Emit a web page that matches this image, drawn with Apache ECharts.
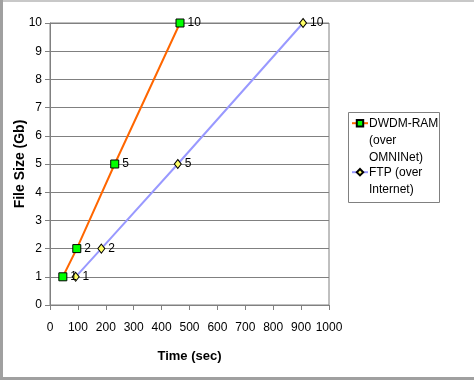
<!DOCTYPE html>
<html><head><meta charset="utf-8">
<script src="https://cdn.jsdelivr.net/npm/echarts@6/dist/echarts.min.js"></script>
<style>html,body{margin:0;padding:0;background:#fff}#c{width:474px;height:380px}</style>
</head><body><div id="c"></div>
<script>
const dwdmTime = [46, 96, 232, 466];
const dwdmSize = [1, 2, 5, 10];
const ftpTime = [92, 184, 458, 907];
const ftpSize = [1, 2, 5, 10];
const seriesNames = ['DWDM-RAM\n(over\nOMNINet)', 'FTP (over\nInternet)'];
const xTicks = [0, 100, 200, 300, 400, 500, 600, 700, 800, 900, 1000];
const yTicks = [0, 1, 2, 3, 4, 5, 6, 7, 8, 9, 10];

const FONT = '"Liberation Sans", Arial, sans-serif';
const chart = echarts.init(document.getElementById('c'), null, {renderer: 'canvas'});
const pts = (xs, ys) => xs.map((x, i) => [x, ys[i]]);
const lbl = {show: true, position: 'right', distance: 3, formatter: p => p.value[1], color: '#000', fontSize: 12, fontFamily: FONT};
const legendBase = {
  orient: 'vertical', left: 351, padding: 0,
  itemWidth: 16, itemHeight: 8, itemGap: 0, formatter: () => '',
  textStyle: {fontSize: 1}
};
const legTextStyle = {font: '12px "Liberation Sans", Arial, sans-serif', fill: '#000', lineHeight: 17};
chart.setOption({
  animation: false,
  backgroundColor: '#fff',
  grid: {left: 50, right: 145, top: 23, bottom: 75, show: true, borderColor: '#808080', borderWidth: 1},
  xAxis: {
    type: 'value', min: 0, max: 1000, interval: 100,
    name: 'Time (sec)', nameLocation: 'middle', nameGap: 45, nameMoveOverlap: false,
    nameTextStyle: {fontFamily: FONT, fontWeight: 'bold', fontSize: 13, color: '#000'},
    axisLine: {lineStyle: {color: '#808080'}},
    axisTick: {show: true, length: 5, lineStyle: {color: '#808080'}},
    axisLabel: {color: '#000', fontSize: 12, fontFamily: FONT, margin: 17, formatter: v => xTicks.includes(v) ? String(v) : ''},
    splitLine: {show: false}
  },
  yAxis: {
    type: 'value', min: 0, max: 10, interval: 1,
    name: 'File Size (Gb)', nameLocation: 'middle', nameGap: 23, nameMoveOverlap: false,
    nameTextStyle: {fontFamily: FONT, fontWeight: 'bold', fontSize: 14, color: '#000'},
    axisLine: {show: true, lineStyle: {color: '#808080'}},
    axisTick: {show: true, length: 5, lineStyle: {color: '#808080'}},
    axisLabel: {color: '#000', fontSize: 12, fontFamily: FONT, margin: 8, formatter: v => yTicks.includes(v) ? String(v) : ''},
    splitLine: {show: true, lineStyle: {color: '#808080', width: 1}}
  },
  legend: [
    Object.assign({}, legendBase, {top: 119, data: [seriesNames[0]]}),
    Object.assign({}, legendBase, {top: 168, data: [seriesNames[1]]})
  ],
  series: [
    {name: seriesNames[0], type: 'line', data: pts(dwdmTime, dwdmSize),
     lineStyle: {color: '#FF6600', width: 2}, itemStyle: {color: '#00FF00', borderColor: '#000', borderWidth: 1},
     symbol: 'rect', symbolSize: 8, label: lbl, z: 3},
    {name: seriesNames[1], type: 'line', data: pts(ftpTime, ftpSize),
     lineStyle: {color: '#9999FF', width: 2}, itemStyle: {color: '#FFFF66', borderColor: '#000', borderWidth: 1},
     symbol: 'diamond', symbolSize: [7, 9], label: lbl, z: 2}
  ],
  graphic: [
    {type: 'rect', shape: {x: 348.5, y: 112.5, width: 91, height: 90}, style: {fill: 'none', stroke: '#808080', lineWidth: 1}, silent: true},
    {type: 'text', left: 369, top: 115, style: Object.assign({text: seriesNames[0]}, legTextStyle), silent: true},
    {type: 'text', left: 369, top: 164, style: Object.assign({text: seriesNames[1]}, legTextStyle), silent: true},
    {type: 'rect', shape: {x: 0, y: 0, width: 474, height: 2}, style: {fill: '#c8c8c8'}, silent: true},
    {type: 'rect', shape: {x: 0, y: 0, width: 3, height: 380}, style: {fill: '#a0a0a0'}, silent: true},
    {type: 'rect', shape: {x: 0, y: 377, width: 474, height: 3}, style: {fill: '#a0a0a0'}, silent: true}
  ]
});
</script></body></html>
